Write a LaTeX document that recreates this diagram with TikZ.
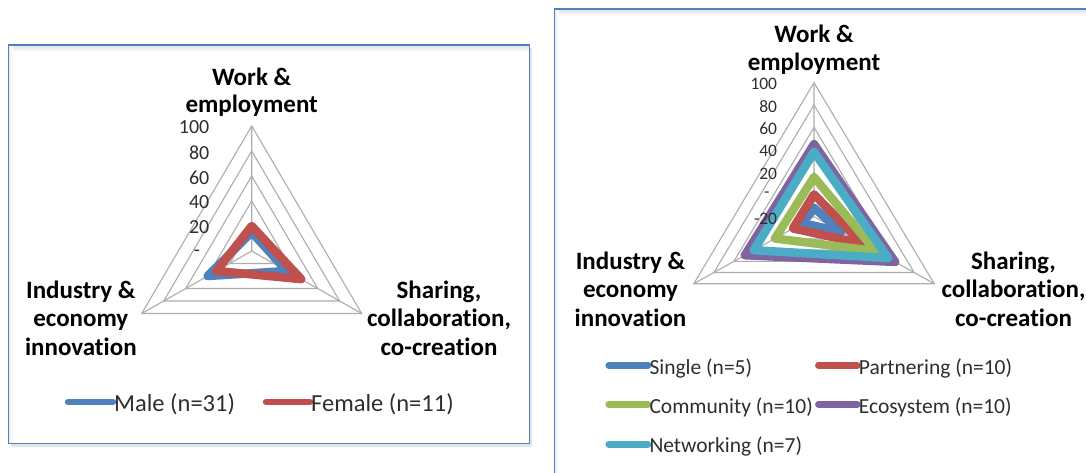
\documentclass[tikz,border=0pt]{standalone}
\usepackage{fontspec}
\setmainfont{Carlito}[Ligatures={NoCommon}]
\definecolor{frameblue}{HTML}{4F81BD}
\definecolor{sblue}{HTML}{4F81BD}
\definecolor{sred}{HTML}{C0504D}
\definecolor{sgreen}{HTML}{9BBB59}
\definecolor{spurple}{HTML}{8064A2}
\definecolor{scyan}{HTML}{4BACC6}
\definecolor{gridgray}{HTML}{ADADAD}
\definecolor{txtgray}{HTML}{2E2E2E}
\tikzset{
  framebox/.style={draw=frameblue, line width=1.5pt},
  gridline/.style={draw=gridgray, line width=1.1pt},
  series/.style={line width=8.5pt, line join=round, line cap=round},
  legline/.style={line width=6.5pt, line cap=round},
  axislab/.style={font=\bfseries\fontsize{25}{29}\selectfont, inner sep=0pt, anchor=base},
  tickL/.style={font=\fontsize{20}{20}\selectfont, text=txtgray, inner sep=0pt, anchor=east},
  tickR/.style={font=\fontsize{17.5}{17.5}\selectfont, text=txtgray, inner sep=0pt, anchor=east},
  legL/.style={font=\fontsize{24.5}{24.5}\selectfont, text=txtgray, inner sep=0pt, anchor=west},
  legR/.style={font=\fontsize{21.5}{21.5}\selectfont, text=txtgray, inner sep=0pt, anchor=west},
}
% name cx cy px-per-unit vmin ratio top right left
\newcommand{\radarpts}[9]{%
  \coordinate (#1t) at (#2,{#3-((#7)-(#5))*#4});
  \coordinate (#1r) at ({#2+#6*((#8)-(#5))*#4},{#3+0.5*((#8)-(#5))*#4});
  \coordinate (#1l) at ({#2-#6*((#9)-(#5))*#4},{#3+0.5*((#9)-(#5))*#4});}
\begin{document}
\begin{tikzpicture}[x=1pt,y=-1pt]
\useasboundingbox (0,0) rectangle (1086,472);
\fill[white] (0,0) rectangle (1086,472);

% ---------------- left frame ----------------
\coordinate (LF1) at (8.7,45);
\coordinate (LF2) at (529.3,443.3);
\fill[black!10] (11,48) rectangle (532,446.5);
\fill[white] (LF1) rectangle (LF2);
\shade[top color=black!12, bottom color=white] (8.7,45) rectangle (529.3,52);
\shade[left color=black!7, right color=white] (8.7,45) rectangle (13,443.3);
\draw[framebox] (LF1) rectangle (LF2);

% ---------------- right frame ----------------
\coordinate (RF1) at (554.7,9);
\coordinate (RF2) at (1100,490);
\fill[white] (RF1) rectangle (RF2);
\shade[top color=black!12, bottom color=white] (554.7,9) rectangle (1086,16);
\shade[left color=black!7, right color=white] (554.7,9) rectangle (559,472);
\draw[framebox] (RF1) rectangle (RF2);

% ---------------- left radar grid ----------------
\def\cxL{251.7}\def\cyL{251}\def\RL{125}\def\kL{0.88}
\foreach \f in {0.2,0.4,0.6,0.8,1} {
  \draw[gridline] (\cxL,{\cyL-\f*\RL}) -- ({\cxL+\kL*\f*\RL},{\cyL+0.5*\f*\RL})
     -- ({\cxL-\kL*\f*\RL},{\cyL+0.5*\f*\RL}) -- cycle;
}
\coordinate (LC) at (\cxL,\cyL);
\radarpts{LO}{\cxL}{\cyL}{1.25}{0}{\kL}{100}{100}{100}
\draw[gridline] (LC) -- (LOt) (LC) -- (LOr) (LC) -- (LOl);

% left series
\radarpts{Lm}{\cxL}{\cyL}{1.25}{0}{\kL}{15}{32}{40}
\radarpts{Lf}{\cxL}{\cyL}{1.25}{0}{\kL}{20}{45}{32}
\draw[series, sblue] (Lmt) -- (Lmr) -- (Lml) -- cycle;
\draw[series, sred] (Lft) -- (Lfr) -- (Lfl) -- cycle;

% left tick labels
\node[tickL] (lt100) at (209.5,127.5) {100};
\node[tickL] (lt80) at (209.5,152.5) {80};
\node[tickL] (lt60) at (209.5,177.5) {60};
\node[tickL] (lt40) at (209.5,202.5) {40};
\node[tickL] (lt20) at (209.5,227.5) {20};
\node[font=\fontsize{20}{20}\selectfont, text=txtgray, inner sep=0pt] (lt0) at (197,253) {-};

% left axis labels
\node[axislab] (lw1) at (251.7,85) {Work \&};
\node[axislab] (lw2) at (251.7,112.3) {employment};
\node[axislab] (li1) at (80.8,298.3) {Industry \&};
\node[axislab] (li2) at (80.8,326.7) {economy};
\node[axislab] (li3) at (80.8,355.3) {innovation};
\node[axislab] (ls1) at (439,298.3) {Sharing,};
\node[axislab] (ls2) at (439,326.7) {collaboration,};
\node[axislab] (ls3) at (439,355.3) {co-creation};

% left legend
\coordinate (lgm1) at (68,402); \coordinate (lgm2) at (113,402);
\draw[legline, sblue] (lgm1) -- (lgm2);
\node[legL] (lgmt) at (114,404.5) {Male (n=31)};
\coordinate (lgf1) at (266,402); \coordinate (lgf2) at (310,402);
\draw[legline, sred] (lgf1) -- (lgf2);
\node[legL] (lgft) at (311,404.5) {Female (n=11)};

% ---------------- right radar grid ----------------
\def\cxR{814}\def\cyR{216.7}\def\RR{134}\def\kR{0.897}
\foreach \f in {1,2,3,4,5,6} {
  \draw[gridline] (\cxR,{\cyR-\f/6*\RR}) -- ({\cxR+\kR*\f/6*\RR},{\cyR+0.5*\f/6*\RR})
     -- ({\cxR-\kR*\f/6*\RR},{\cyR+0.5*\f/6*\RR}) -- cycle;
}
\coordinate (RC) at (\cxR,\cyR);
\radarpts{RO}{\cxR}{\cyR}{1.1167}{-20}{\kR}{100}{100}{100}
\draw[gridline] (RC) -- (ROt) (RC) -- (ROr) (RC) -- (ROl);

% right series
\radarpts{Rs}{\cxR}{\cyR}{1.1167}{-20}{\kR}{-12}{7}{-8.5}
\radarpts{Rp}{\cxR}{\cyR}{1.1167}{-20}{\kR}{0}{28}{1}
\radarpts{Rc}{\cxR}{\cyR}{1.1167}{-20}{\kR}{15.5}{41.5}{19}
\radarpts{Re}{\cxR}{\cyR}{1.1167}{-20}{\kR}{45}{61}{49}
\radarpts{Rn}{\cxR}{\cyR}{1.1167}{-20}{\kR}{38}{54}{40}
\draw[series, sblue] (Rst) -- (Rsr) -- (Rsl) -- cycle;
\draw[series, sred] (Rpt) -- (Rpr) -- (Rpl) -- cycle;
\draw[series, sgreen] (Rct) -- (Rcr) -- (Rcl) -- cycle;
\draw[series, spurple] (Ret) -- (Rer) -- (Rel) -- cycle;
\draw[series, scyan] (Rnt) -- (Rnr) -- (Rnl) -- cycle;

% right tick labels
\node[tickR] (rt100) at (777.3,84) {100};
\node[tickR] (rt80) at (777.3,106.5) {80};
\node[tickR] (rt60) at (777.3,128.8) {60};
\node[tickR] (rt40) at (777.3,151.2) {40};
\node[tickR] (rt20) at (777.3,173.5) {20};
\node[font=\fontsize{17.5}{17.5}\selectfont, text=txtgray, inner sep=0pt] (rt0) at (766.7,195) {-};
\node[tickR] (rtm20) at (777.3,218.5) {-20};

% right axis labels
\node[axislab] (rw1) at (814,42.7) {Work \&};
\node[axislab] (rw2) at (814,70.7) {employment};
\node[axislab] (ri1) at (630.5,269.3) {Industry \&};
\node[axislab] (ri2) at (630.5,297.7) {economy};
\node[axislab] (ri3) at (630.5,326) {innovation};
\node[axislab] (rs1) at (1013.5,269.3) {Sharing,};
\node[axislab] (rs2) at (1013.5,297.7) {collaboration,};
\node[axislab] (rs3) at (1013.5,326) {co-creation};

% right legend
\coordinate (rg11) at (608.7,365.3); \coordinate (rg12) at (648,365.3);
\draw[legline, sblue] (rg11) -- (rg12);
\node[legR] (rg1t) at (649.3,368.3) {Single (n=5)};
\coordinate (rg21) at (818.3,365.3); \coordinate (rg22) at (857.3,365.3);
\draw[legline, sred] (rg21) -- (rg22);
\node[legR] (rg2t) at (858.7,368.3) {Partnering (n=10)};
\coordinate (rg31) at (608.7,404.3); \coordinate (rg32) at (648,404.3);
\draw[legline, sgreen] (rg31) -- (rg32);
\node[legR] (rg3t) at (649.3,407.5) {Community (n=10)};
\coordinate (rg41) at (818.3,404.3); \coordinate (rg42) at (857.3,404.3);
\draw[legline, spurple] (rg41) -- (rg42);
\node[legR] (rg4t) at (858.7,407.5) {Ecosystem (n=10)};
\coordinate (rg51) at (608.7,444.3); \coordinate (rg52) at (648,444.3);
\draw[legline, scyan] (rg51) -- (rg52);
\node[legR] (rg5t) at (649.3,446.7) {Networking (n=7)};
\end{tikzpicture}
\end{document}
